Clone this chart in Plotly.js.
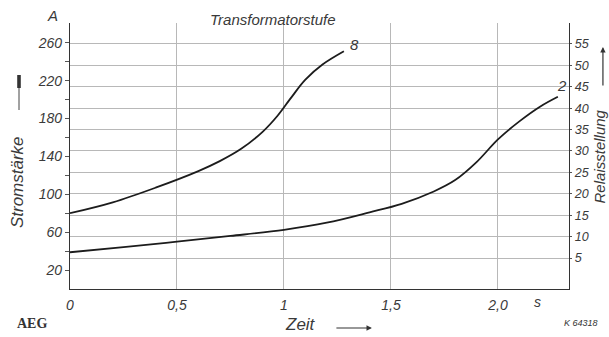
<!DOCTYPE html>
<html>
<head>
<meta charset="utf-8">
<script src="https://cdn.plot.ly/plotly-3.0.1.min.js"></script>
<style>html,body{margin:0;padding:0;background:#fff}#chart{width:609px;height:337px}</style>
</head>
<body>
<div id="chart"></div>
<script>
// Zeit (s) and Stromstärke (A) for Transformatorstufe 8
const time8 = [0, 0.2, 0.4, 0.6, 0.7, 0.8, 0.9, 0.97, 1.03, 1.1, 1.18, 1.28];
const current8 = [80, 91.5, 107, 124.5, 135, 148, 166, 183, 201, 221, 237, 251];
// Transformatorstufe 2
const time2 = [0, 0.25, 0.5, 0.75, 1.0, 1.2, 1.4, 1.55, 1.7, 1.8, 1.9, 2.0, 2.1, 2.2, 2.28];
const current2 = [38.8, 44.3, 50, 56, 62.5, 70, 81, 90, 103, 115, 134, 158, 177, 193, 203];

const xTickVals = [0, 0.5, 1, 1.5, 2];
const xTickText = ['0', '0,5', '1', '1,5', '2,0'];
const yTickVals = [20, 40, 60, 80, 100, 120, 140, 160, 180, 200, 220, 240, 260];
const yTickText = ['20', '', '60', '', '100', '', '140', '', '180', '', '220', '', '260'];
const relaisTickVals = [5, 10, 15, 20, 25, 30, 35, 40, 45, 50, 55];
const relaisTickText = ['5', '10', '15', '20', '25', '30', '35', '40', '45', '50', '55'];
const curveLabels = ['8', '2'];

const F = 'Liberation Sans, Arial, sans-serif';
const ink = '#1c1c1c';
const txt = '#3a3a3a';
const grid = '#b8b8b8';

const traces = [
  {x: time8, y: current8, mode: 'lines', line: {color: ink, width: 1.8, shape: 'spline', smoothing: 1}, hoverinfo: 'skip'},
  {x: time2, y: current2, mode: 'lines', line: {color: ink, width: 1.8, shape: 'spline', smoothing: 1}, hoverinfo: 'skip'},
  // invisible trace so the right axis is drawn
  {x: [0], y: [null], yaxis: 'y2', mode: 'lines', hoverinfo: 'skip'}
];

function it(size, color) { return {family: F, size: size, color: color || txt, style: 'italic'}; }
function lab(text, x, y, font, extra) {
  return Object.assign({text: text, xref: 'paper', yref: 'paper', x: x, y: y, xanchor: 'center', yanchor: 'middle', showarrow: false, font: font}, extra || {});
}

const layout = {
  width: 609, height: 337,
  margin: {l: 70, r: 40, t: 23, b: 48},
  paper_bgcolor: '#fff', plot_bgcolor: '#fff',
  showlegend: false,
  xaxis: {
    range: [0, 2.332], tickvals: xTickVals, ticktext: xTickText,
    showgrid: true, gridcolor: grid, gridwidth: 1, zeroline: false,
    showline: true, linecolor: '#333', linewidth: 1.2, ticks: 'outside', ticklen: 3, tickcolor: 'rgba(0,0,0,0)',
    tickfont: it(14), fixedrange: true
  },
  yaxis: {
    range: [0, 280.9], tickvals: yTickVals, ticktext: yTickText,
    showgrid: false, zeroline: false, showline: true, linecolor: '#333', linewidth: 1.2,
    ticks: 'outside', ticklen: 4, tickcolor: '#555', tickfont: it(14), fixedrange: true
  },
  yaxis2: {
    overlaying: 'y', side: 'right', range: [-2.24, 59.9],
    tickvals: relaisTickVals, ticktext: relaisTickText,
    showgrid: true, gridcolor: grid, gridwidth: 1, zeroline: false,
    showline: true, linecolor: '#333', linewidth: 1.2,
    ticks: 'outside', ticklen: 2, tickcolor: '#555', tickfont: it(12.5), fixedrange: true
  },
  annotations: [
    lab('A', -0.036, 1.03, it(15)),
    lab('Transformatorstufe', 0.4068, 1.0113, it(15)),
    lab('Stromstärke', -0.1062, 0.402, it(17), {textangle: -90}),
    lab('Relaisstellung', 1.062, 0.498, it(15), {textangle: -90}),
    lab('Zeit', 0.461, -0.135, it(17)),
    lab('<b>AEG</b>', -0.0762, -0.128, {family: 'Liberation Serif, serif', size: 14, color: '#333'}),
    lab('K 64318', 1.024, -0.128, it(9, '#333')),
    lab('s', 0.936, -0.049, it(14)),
    {text: curveLabels[0], xref: 'x', yref: 'y', x: 1.33, y: 258, xanchor: 'center', yanchor: 'middle', showarrow: false, font: it(15)},
    {text: curveLabels[1], xref: 'x', yref: 'y', x: 2.298, y: 215, xanchor: 'center', yanchor: 'middle', showarrow: false, font: it(15)},
    // arrows
    {text: '', xref: 'paper', yref: 'paper', x: 0.605, y: -0.1466, ax: -37, ay: 0, showarrow: true, arrowhead: 2, arrowsize: 0.9, arrowwidth: 1.2, arrowcolor: '#333'},
    {text: '', xref: 'paper', yref: 'paper', x: 1.068, y: 0.9098, ax: 0, ay: 40, showarrow: true, arrowhead: 2, arrowsize: 0.9, arrowwidth: 1.2, arrowcolor: '#333'}
  ],
  shapes: [
    {type: 'line', xref: 'paper', yref: 'paper', x0: -0.1022, x1: -0.1022, y0: 0.6729, y1: 0.7556, line: {color: '#444', width: 1}},
    {type: 'rect', xref: 'paper', yref: 'paper', x0: -0.1058, x1: -0.0986, y0: 0.7556, y1: 0.8045, fillcolor: '#333', line: {width: 0}}
  ]
};

Plotly.newPlot('chart', traces, layout, {displayModeBar: false, staticPlot: true});
</script>
</body>
</html>
